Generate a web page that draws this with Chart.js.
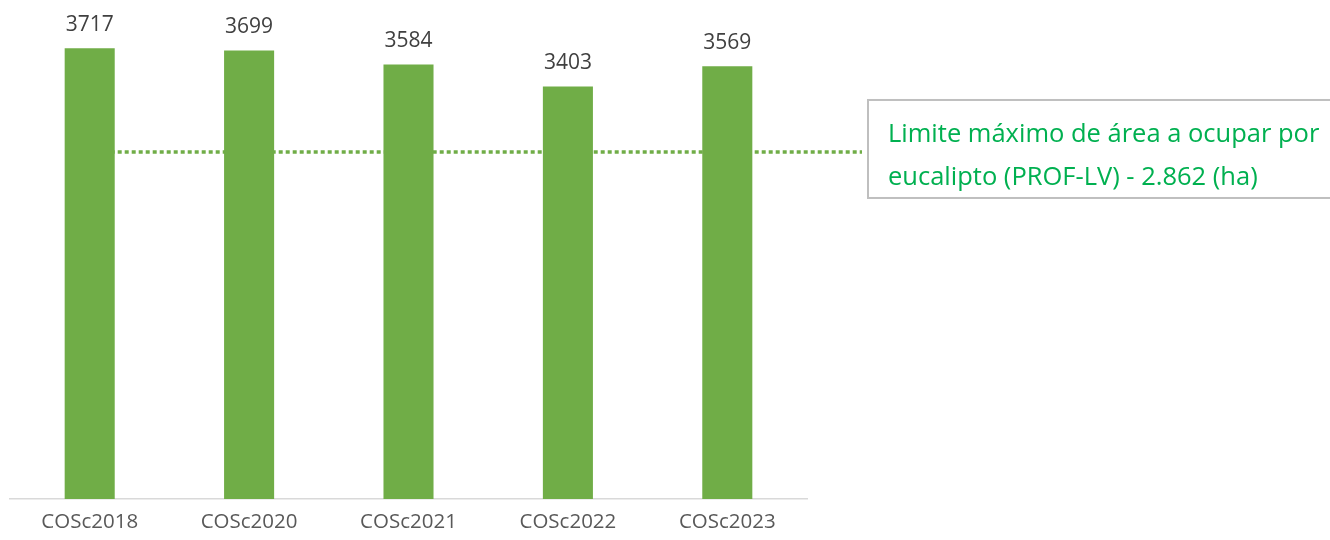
<!DOCTYPE html>
<html>
<head>
<meta charset="utf-8">
<script src="https://cdn.jsdelivr.net/npm/chart.js@4/dist/chart.umd.min.js"></script>
<style>
  html, body { margin: 0; padding: 0; background: #ffffff; }
  #wrap { width: 1330px; height: 540px; position: relative; }
</style>
</head>
<body>
<div id="wrap"><canvas id="c" width="1330" height="540"></canvas></div>
<script>
const categories = ["COSc2018", "COSc2020", "COSc2021", "COSc2022", "COSc2023"];
const areaValues = [3717, 3699, 3584, 3403, 3569];
const limitValue = 2862;
const limitLabel = ["Limite máximo de área a ocupar por", "eucalipto (PROF-LV) - 2.862 (ha)"];

const FONT = "'Open Sans', 'DejaVu Sans', sans-serif";

const overlayPlugin = {
  id: 'overlay',
  beforeDatasetsDraw(chart) {
    const ctx = chart.ctx;
    const x = chart.scales.x, y = chart.scales.y;
    const yPix = y.getPixelForValue(limitValue);
    const boxLeft = chart.chartArea.right + 61;
    ctx.save();
    ctx.strokeStyle = '#70AD47';
    ctx.lineWidth = 3.5;
    ctx.setLineDash([4, 3]);
    ctx.beginPath();
    ctx.moveTo(x.getPixelForValue(0), yPix);
    ctx.lineTo(boxLeft - 6, yPix);
    ctx.stroke();
    ctx.restore();
  },
  afterDatasetsDraw(chart) {
    const ctx = chart.ctx;
    const y = chart.scales.y;
    const meta = chart.getDatasetMeta(0);
    ctx.save();
    ctx.font = "21px " + FONT;
    ctx.fillStyle = '#404040';
    ctx.textAlign = 'center';
    ctx.textBaseline = 'middle';
    meta.data.forEach((bar, i) => {
      ctx.fillText(String(areaValues[i]), bar.x, bar.y - 23);
    });
    // label box
    const yPix = y.getPixelForValue(limitValue);
    const boxLeft = chart.chartArea.right + 61;
    const boxTop = yPix - 52;
    const boxH = 98;
    ctx.strokeStyle = '#BFBFBF';
    ctx.lineWidth = 2;
    ctx.setLineDash([]);
    ctx.strokeRect(boxLeft, boxTop, 500, boxH);
    ctx.fillStyle = '#00B050';
    ctx.font = "25.5px " + FONT;
    ctx.textAlign = 'left';
    ctx.textBaseline = 'alphabetic';
    ctx.fillText(limitLabel[0], boxLeft + 20, boxTop + 42);
    ctx.fillText(limitLabel[1], boxLeft + 20, boxTop + 85);
    ctx.restore();
  }
};

new Chart(document.getElementById('c'), {
  type: 'bar',
  data: {
    labels: categories,
    datasets: [{
      data: areaValues,
      backgroundColor: '#70AD47',
      borderWidth: 0,
      categoryPercentage: 1,
      barPercentage: 0.314
    }]
  },
  options: {
    responsive: false,
    animation: false,
    devicePixelRatio: 1,
    layout: { padding: { left: 10, right: 523, top: 14, bottom: 0 } },
    plugins: { legend: { display: false }, tooltip: { enabled: false } },
    scales: {
      x: {
        afterFit(scale) { scale.height = 41; },
        grid: { display: false, drawTicks: false },
        border: { display: true, color: '#D9D9D9', width: 1.5 },
        ticks: { color: '#595959', font: { family: FONT, size: 20.5 }, padding: 11 }
      },
      y: {
        display: false,
        min: 0,
        max: 4000
      }
    }
  },
  plugins: [overlayPlugin]
});
</script>
</body>
</html>
